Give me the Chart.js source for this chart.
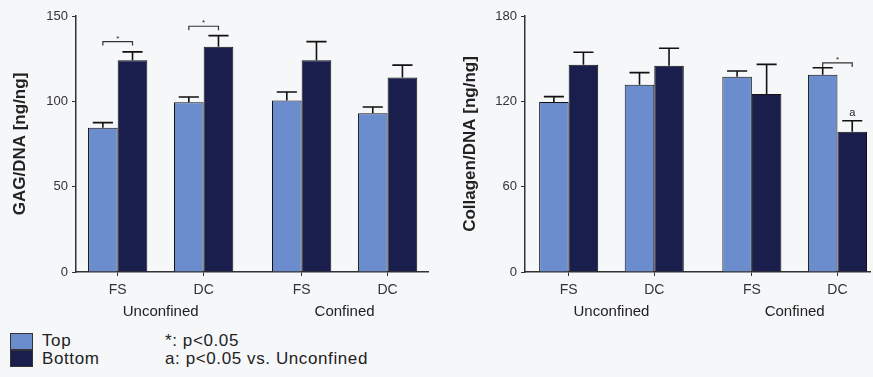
<!DOCTYPE html>
<html>
<head>
<meta charset="utf-8">
<script src="https://cdn.jsdelivr.net/npm/chart.js@4.4.1/dist/chart.umd.min.js"></script>
<style>
    body {
        margin: 0;
        width: 873px;
        height: 377px;
        overflow: hidden;
        background: #f6f7f9;
        position: relative;
        font-family: "Liberation Sans", Arial, sans-serif;
        color: #222;
    }
    #gagChart { position: absolute; left: 0; top: 0; }
    #colChart { position: absolute; left: 440px; top: 0; }
    .swatch { position: absolute; left: 10px; width: 21px; height: 15px; border: 1px solid #333; }
    .legText { position: absolute; font-size: 17px; line-height: 17px; letter-spacing: 0.6px; white-space: nowrap; }
</style>
</head>
<body>
<canvas id="gagChart" width="440" height="330"></canvas>
<canvas id="colChart" width="433" height="330"></canvas>

<div class="swatch" id="swTop" style="top:333px"></div>
<div class="swatch" id="swBottom" style="top:350px"></div>
<div class="legText" id="lgTop" style="left:42px; top:332px"></div>
<div class="legText" id="lgBottom" style="left:42px; top:350px"></div>
<div class="legText" id="noteStar" style="left:165px; top:332px"></div>
<div class="legText" id="noteA" style="left:165px; top:350px"></div>

<script>
// categories
const groupLabels = ["Unconfined", "Confined"];
const catLabels = ["FS", "DC", "FS", "DC"];
const seriesNames = ["Top", "Bottom"];
const notes = ["*: p<0.05", "a: p<0.05 vs. Unconfined"];

// GAG/DNA [ng/ng] (mean, upper error)
const gagTop = [84.5, 99.5, 100.5, 93];
const gagTopErr = [3, 3, 5, 3.7];
const gagBottom = [124, 132, 124, 114];
const gagBottomErr = [5, 6.5, 11, 7.2];
const gagBrackets = [{group: 0, level: 135}, {group: 1, level: 144}];
const gagLetters = [];

// Collagen/DNA [ng/ng] (mean, upper error)
const colTop = [119.5, 131.7, 137.3, 138.7];
const colTopErr = [3.8, 8.5, 4, 4.9];
const colBottom = [145.8, 145, 125.2, 98.6];
const colBottomErr = [8.7, 12.3, 20.8, 7.8];
const colBrackets = [{group: 3, level: 147}];
const colLetters = [{group: 3, series: 1, text: "a"}];

const topColor = "#6c8dcd";
const bottomColor = "#1a1e4c";
const inkColor = "#222";

// Unconfined and Confined pairs sit a little further apart
const GROUP_GAP = 0.14;
const groupPos = catLabels.map((_, i) => i + (i >= 2 ? GROUP_GAP : 0));

const annotPlugin = {
    id: "annot",
    afterDatasetsDraw(chart, args, opts) {
        const ctx = chart.ctx;
        const yScale = chart.scales.y;
        const xScale = chart.scales.x;
        ctx.save();
        ctx.strokeStyle = "#111";
        ctx.fillStyle = inkColor;

        // error bars, upward only
        ctx.lineWidth = 1.6;
        chart.data.datasets.forEach((ds, di) => {
            chart.getDatasetMeta(di).data.forEach((bar, i) => {
                const top = yScale.getPixelForValue(ds.data[i].y + ds.errors[i]);
                const half = bar.width * 0.34;
                ctx.beginPath();
                ctx.moveTo(bar.x, bar.y);
                ctx.lineTo(bar.x, top);
                ctx.moveTo(bar.x - half, top);
                ctx.lineTo(bar.x + half, top);
                ctx.stroke();
            });
        });

        // significance brackets
        ctx.lineWidth = 1.2;
        ctx.strokeStyle = "#333";
        ctx.textAlign = "center";
        ctx.textBaseline = "middle";
        opts.brackets.forEach(b => {
            const a = chart.getDatasetMeta(0).data[b.group];
            const c = chart.getDatasetMeta(1).data[b.group];
            const py = yScale.getPixelForValue(b.level);
            ctx.beginPath();
            ctx.moveTo(a.x, py + 4);
            ctx.lineTo(a.x, py);
            ctx.lineTo(c.x, py);
            ctx.lineTo(c.x, py + 4);
            ctx.stroke();
            ctx.font = "8px 'Liberation Sans', Arial";
            ctx.fillText("*", (a.x + c.x) / 2, py - 3);
        });

        // letters over error bars
        opts.letters.forEach(l => {
            const ds = chart.data.datasets[l.series];
            const bar = chart.getDatasetMeta(l.series).data[l.group];
            const top = yScale.getPixelForValue(ds.data[l.group].y + ds.errors[l.group]);
            ctx.font = "11px 'Liberation Sans', Arial";
            ctx.fillText(l.text, bar.x, top - 8);
        });

        // group labels under the category ticks
        ctx.font = "15px 'Liberation Sans', Arial";
        groupLabels.forEach((g, gi) => {
            const cx = (xScale.getPixelForValue(groupPos[2 * gi]) + xScale.getPixelForValue(groupPos[2 * gi + 1])) / 2;
            ctx.fillText(g, cx, xScale.top + 40);
        });
        ctx.restore();
    }
};

function makeChart(id, topVals, topErr, bottomVals, bottomErr, yMax, yStep, title, axisWidth, xMin, xMax, padRight, titlePad, brackets, letters) {
    const ctx = document.getElementById(id).getContext("2d");
    return new Chart(ctx, {
        type: "bar",
        data: {
            datasets: [
                {
                    label: seriesNames[0],
                    data: topVals.map((v, i) => ({x: groupPos[i], y: v})),
                    errors: topErr,
                    backgroundColor: topColor,
                    borderColor: "#111",
                    borderWidth: 1
                },
                {
                    label: seriesNames[1],
                    data: bottomVals.map((v, i) => ({x: groupPos[i], y: v})),
                    errors: bottomErr,
                    backgroundColor: bottomColor,
                    borderColor: "#111",
                    borderWidth: 1
                }
            ]
        },
        options: {
            responsive: false,
            animation: false,
            barPercentage: 1.0,
            categoryPercentage: 0.69,
            layout: {padding: {top: 16, right: padRight, bottom: 0, left: 0}},
            plugins: {
                legend: {display: false},
                tooltip: {enabled: false},
                annot: {brackets: brackets, letters: letters}
            },
            scales: {
                x: {
                    type: "linear",
                    min: xMin,
                    max: xMax,
                    offset: false,
                    afterBuildTicks: scale => {
                        scale.ticks = groupPos.map(v => ({value: v}));
                    },
                    afterFit: scale => { scale.height = 58; },
                    grid: {offset: false, drawOnChartArea: false, drawTicks: true, tickLength: 4, color: "#333"},
                    border: {display: true, color: "#333", width: 1.5},
                    ticks: {
                        autoSkip: false,
                        maxRotation: 0,
                        padding: 6,
                        color: "#333",
                        font: {size: 14, family: "'Liberation Sans', Arial"},
                        callback: (value, index) => catLabels[index]
                    }
                },
                y: {
                    min: 0,
                    max: yMax,
                    afterFit: scale => { scale.width = axisWidth; },
                    grid: {drawOnChartArea: false, drawTicks: true, tickLength: 4, color: "#333"},
                    border: {display: true, color: "#333", width: 1.5},
                    ticks: {
                        stepSize: yStep,
                        padding: 4,
                        color: "#333",
                        font: {size: 13, family: "'Liberation Sans', Arial"}
                    },
                    title: {
                        display: true,
                        text: title,
                        color: inkColor,
                        padding: {top: titlePad, bottom: 0},
                        font: {size: 17, weight: "bold", family: "'Liberation Sans', Arial"}
                    }
                }
            }
        },
        plugins: [annotPlugin]
    });
}

makeChart("gagChart", gagTop, gagTopErr, gagBottom, gagBottomErr, 150, 50,
    "GAG/DNA [ng/ng]", 76, -0.485, 3.61, 12, 10, gagBrackets, gagLetters);
makeChart("colChart", colTop, colTopErr, colBottom, colBottomErr, 180, 60,
    "Collagen/DNA [ng/ng]", 85, -0.51, 3.52, 3, 20, colBrackets, colLetters);

// legend and footnotes
document.getElementById("swTop").style.background = topColor;
document.getElementById("swBottom").style.background = bottomColor;
document.getElementById("lgTop").textContent = seriesNames[0];
document.getElementById("lgBottom").textContent = seriesNames[1];
document.getElementById("noteStar").textContent = notes[0];
document.getElementById("noteA").textContent = notes[1];
</script>
</body>
</html>
